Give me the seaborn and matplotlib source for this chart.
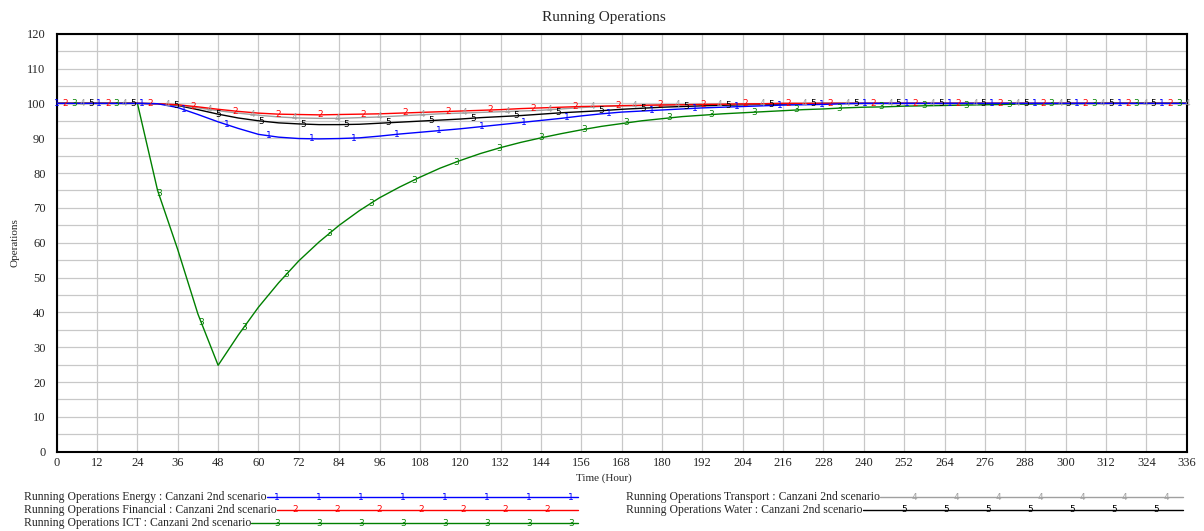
import numpy as np
import pandas as pd
import matplotlib
matplotlib.use('Agg')
import matplotlib.pyplot as plt
import seaborn as sns

# time axis (hours), one value every 6 hours
hours = np.arange(0, 337, 6)

energy = [100, 100, 100, 100, 100,
          99.9, 98.8, 96.8, 94.7, 92.8, 91.1, 90.3, 89.9, 89.8, 89.9, 90.1, 90.6,
          91.2, 91.7, 92.2, 92.7, 93.3, 93.9, 94.5, 95.1, 95.7, 96.4, 97.0, 97.5,
          97.8, 98.1, 98.4, 98.7, 98.9, 99.1, 99.3, 99.5, 99.6, 99.7, 99.9,
          100, 100, 100, 100, 100, 100, 100, 100, 100, 100, 100, 100, 100, 100, 100, 100, 100]
financial = [100, 100, 100, 100, 100,
             99.9, 99.6, 99.0, 98.3, 97.7, 97.2, 96.9, 96.8, 96.7, 96.8, 96.9, 97.0,
             97.2, 97.4, 97.6, 97.8, 98.0, 98.2, 98.5, 98.7, 98.9, 99.1, 99.2, 99.35,
             99.45, 99.55, 99.6, 99.7, 99.75, 99.85, 99.9,
             100, 100, 100, 100, 100, 100, 100, 100, 100, 100, 100, 100, 100, 100, 100,
             100, 100, 100, 100, 100, 100]
ict = [100, 100, 100, 100, 100,
       75.0, 58.0, 39.5, 24.8, 33.5, 41.5, 48.5, 54.8, 60.2, 65.0, 69.2, 72.9,
       76.0, 78.8, 81.4, 83.6, 85.6, 87.3, 88.8, 90.1, 91.3, 92.4, 93.4, 94.2,
       95.0, 95.6, 96.2, 96.6, 97.0, 97.3, 97.6, 97.9, 98.2, 98.4, 98.7, 98.9,
       99.0, 99.2, 99.3, 99.4, 99.5, 99.6, 99.7, 99.8, 99.85, 99.9, 99.95,
       100, 100, 100, 100, 100]
transport = [100, 100, 100, 100, 100,
             99.9, 99.5, 98.7, 97.9, 97.2, 96.6, 96.1, 95.8, 95.7, 95.7, 95.9, 96.1,
             96.4, 96.7, 97.0, 97.2, 97.4, 97.6, 97.8, 98.0, 98.4, 98.8, 99.1, 99.25,
             99.35, 99.5, 99.6, 99.7, 99.75, 99.85, 99.9,
             100, 100, 100, 100, 100, 100, 100, 100, 100, 100, 100, 100, 100, 100, 100,
             100, 100, 100, 100, 100, 100]
water = [100, 100, 100, 100, 100,
         99.9, 99.4, 98.2, 96.9, 95.8, 95.0, 94.4, 94.1, 93.9, 93.9, 94.0, 94.3,
         94.6, 94.9, 95.2, 95.5, 95.9, 96.2, 96.5, 96.9, 97.3, 97.6, 97.9, 98.3,
         98.6, 98.9, 99.1, 99.3, 99.45, 99.6, 99.7, 99.8, 99.9,
         100, 100, 100, 100, 100, 100, 100, 100, 100, 100, 100, 100, 100, 100, 100,
         100, 100, 100, 100]

names = ['Energy', 'Financial', 'ICT', 'Transport', 'Water']
series = [energy, financial, ict, transport, water]
colors = ['#0000ff', '#ff0000', '#008000', '#a0a0a0', '#000000']
x_ticks = list(range(0, 337, 12))
y_ticks = list(range(0, 121, 10))

sns.set_style('white')
serif = ['Liberation Serif', 'DejaVu Serif']

W, H = 1204, 531
fig = plt.figure(figsize=(W / 100, H / 100), dpi=100)
ax = fig.add_axes([56.7 / W, 1 - 451.7 / H, (1186.7 - 56.7) / W, (451.7 - 33.7) / H])

# grid
for t in x_ticks:
    ax.axvline(t, color='#c8c8c8', lw=0.9, zorder=0)
for v in range(0, 121, 5):
    ax.axhline(v, color='#c8c8c8', lw=0.9, zorder=0)

df = pd.DataFrame({'hour': np.tile(hours, 5),
                   'value': np.concatenate(series),
                   'name': np.repeat(names, len(hours))})

# draw series 5..1 so the blue line ends up on top
for i in range(4, -1, -1):
    sub = df[df['name'] == names[i]]
    sns.lineplot(data=sub, x='hour', y='value', color=colors[i], lw=1.0,
                 ax=ax, zorder=3 + (5 - i), legend=False)

# numbered markers along the lines
step = 12.64
for i in range(5):
    tm = np.arange(i * step / 5, 336.5, step)
    ym = np.interp(tm, hours, series[i])
    for t, v in zip(tm, ym):
        ax.text(t, v, str(i + 1), color=colors[i], fontsize=6.5, ha='center',
                va='center', family='DejaVu Sans', zorder=10)

ax.set_xlim(0, 336)
ax.set_ylim(0, 120)
ax.set_xticks(x_ticks)
ax.set_yticks(y_ticks)
ax.set_xlabel('')
ax.set_ylabel('')
ax.tick_params(length=0, labelsize=9)
ax.tick_params(axis='y', pad=8)
ax.tick_params(axis='x', pad=4)
for lab in ax.get_xticklabels() + ax.get_yticklabels():
    lab.set_family(serif)
for s in ax.spines.values():
    s.set_color('black')
    s.set_linewidth(1.5)

fig.text(604 / W, 1 - 18 / H, 'Running Operations', ha='center', va='center',
         fontsize=11, family=serif)
fig.text(604 / W, 1 - 478 / H, 'Time (Hour)', ha='center', va='center',
         fontsize=8, family=serif)
fig.text(15 / W, 1 - 243 / H, 'Operations', ha='center', va='center',
         rotation=90, fontsize=8, family=serif)

# legend drawn in pixel coordinates
lg = fig.add_axes([0, 0, 1, 1], zorder=-1)
lg.set_xlim(0, W)
lg.set_ylim(H, 0)
lg.axis('off')
rows = [(24, 497, 578), (24, 510, 578), (24, 523, 578), (626, 497, 1183), (626, 510, 1183)]
fig.canvas.draw()
rend = fig.canvas.get_renderer()
for i in range(5):
    x0, y0, x1 = rows[i]
    txt = lg.text(x0, y0, 'Running Operations %s : Canzani 2nd scenario' % names[i],
                  ha='left', va='center', fontsize=8.5, family=serif)
    bb = txt.get_window_extent(rend)
    xs = bb.x1
    lg.plot([xs, x1], [y0, y0], color=colors[i], lw=1.0)
    mk = np.arange(xs + 10 + i * 8, x1, 42)
    for m in mk:
        lg.text(m, y0, str(i + 1), color=colors[i], fontsize=6.5, ha='center',
                va='center', family='DejaVu Sans')

fig.savefig('out.png', dpi=100)
